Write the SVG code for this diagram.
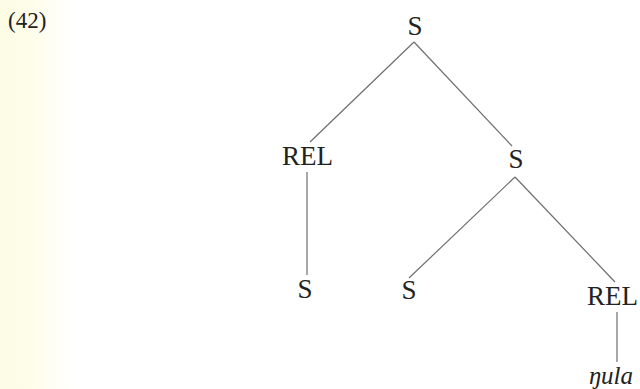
<svg xmlns="http://www.w3.org/2000/svg" width="640" height="389" viewBox="0 0 640 389">
<defs>
<linearGradient id="bg" x1="0" y1="0" x2="1" y2="0">
<stop offset="0" stop-color="#fdfce4"/>
<stop offset="0.05" stop-color="#fefdea"/>
<stop offset="0.09" stop-color="#fffff8"/>
<stop offset="0.12" stop-color="#ffffff"/>
<stop offset="1" stop-color="#ffffff"/>
</linearGradient>
<style>
.t{font-family:"Liberation Serif","Times New Roman",serif;font-size:27px;fill:#222;}
.c{text-anchor:middle;}
.i{font-style:italic;font-size:25px;}
.e line{stroke:#6e6e6e;stroke-width:1.2;fill:none;}
</style>
</defs>
<rect width="640" height="389" fill="url(#bg)"/>
<text x="8" y="28" class="t" style="font-size:23px">(42)</text>
<g class="e" id="connectors">
<line x1="414" y1="42" x2="310" y2="142"/>
<line x1="414" y1="42" x2="512" y2="146"/>
<line x1="307" y1="172" x2="307" y2="275"/>
<line x1="515" y1="177" x2="409" y2="278"/>
<line x1="515" y1="177" x2="615" y2="282"/>
<line x1="617" y1="312" x2="617" y2="362"/>
</g>
<g id="n-s-top"><text x="415" y="35" class="t c">S</text></g>
<g id="n-rel-left"><text x="282" y="165" class="t">REL</text></g>
<g id="n-s-right"><text x="516" y="168" class="t c">S</text></g>
<g id="n-s-bl"><text x="305" y="298" class="t c">S</text></g>
<g id="n-s-bm"><text x="409" y="299" class="t c">S</text></g>
<g id="n-rel-right"><text x="638" y="305" class="t" text-anchor="end">REL</text></g>
<g id="n-nula"><text x="589" y="384" class="t i">ŋula</text></g>
</svg>
